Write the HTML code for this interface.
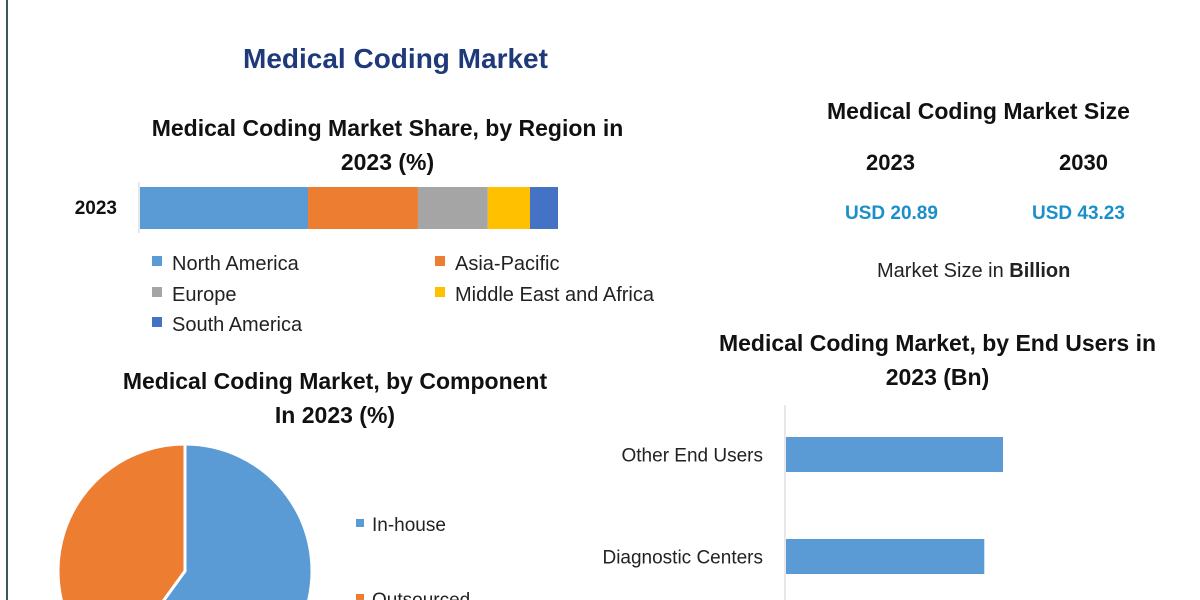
<!DOCTYPE html>
<html><head><meta charset="utf-8"><style>
html,body{margin:0;width:1200px;height:600px;overflow:hidden}
body{background:#fff;font-family:"Liberation Sans",sans-serif;position:relative}
.t{position:absolute;white-space:nowrap}
.b{font-weight:bold;color:#111}
</style></head><body>
<div style="position:absolute;left:6px;top:0;width:2px;height:600px;background:#3a5566"></div>
<div class="t" style="left:243px;top:43px;font-size:28px;font-weight:bold;color:#1f3a7a">Medical Coding Market</div>
<div class="t b" style="left:100px;top:111px;width:575px;text-align:center;font-size:23px;line-height:34px">Medical Coding Market Share, by Region in<br>2023 (%)</div>
<div class="t b" style="left:827px;top:98px;font-size:23px">Medical Coding Market Size</div>
<div class="t b" style="left:866px;top:150px;font-size:22px">2023</div>
<div class="t b" style="left:1059px;top:150px;font-size:22px">2030</div>
<div class="t" style="left:845px;top:203px;font-size:19px;font-weight:bold;color:#1a8fc9">USD 20.89</div>
<div class="t" style="left:1032px;top:203px;font-size:19px;font-weight:bold;color:#1a8fc9">USD 43.23</div>
<div class="t" style="left:877px;top:260px;font-size:20px;color:#222">Market Size in <b>Billion</b></div>
<div class="t b" style="left:100px;top:364px;width:470px;text-align:center;font-size:23px;line-height:34px">Medical Coding Market, by Component<br>In 2023 (%)</div>
<div class="t b" style="left:695px;top:326px;width:485px;text-align:center;font-size:23px;line-height:34px">Medical Coding Market, by End Users in<br>2023 (Bn)</div>
<svg id="s" width="1200" height="600" viewBox="0 0 1200 600" overflow="hidden" style="position:absolute;left:0;top:0;overflow:hidden" font-family="Liberation Sans, sans-serif"></svg>
<script>
const regions=["North America","Asia-Pacific","Europe","Middle East and Africa","South America"];
const regionShare=[40.2,26.3,16.7,10.1,6.7];
const regionColors=["#5b9bd5","#ed7d31","#a5a5a5","#ffc000","#4472c4"];
const components=["In-house","Outsourced"];
const componentShare=[60,40];
const endUsers=["Other End Users","Diagnostic Centers"];
const endUserValues=[5.8,5.3];
const NS="http://www.w3.org/2000/svg";
const s=document.getElementById('s');
function mk(t,a,txt){const e=document.createElementNS(NS,t);for(const k in a)e.setAttribute(k,a[k]);if(txt!==undefined)e.textContent=txt;s.appendChild(e);return e;}
const bx0=140,bw=418,total=regionShare.reduce((a,b)=>a+b,0);
let e=mk('line',{x1:139,y1:182,x2:139,y2:233,stroke:'#d0d0d0'});


e=mk('text',{x:117,y:214,'text-anchor':'end','font-size':19,'font-weight':'bold',fill:'#111'},'2023');


let acc=0;
regionShare.forEach((v,i)=>{const x=bx0+acc/total*bw,w=v/total*bw;acc+=v;
const r=mk('rect',{x:x,y:187,width:w,height:42,fill:regionColors[i]});

});
const legPos=[[152,262],[435,262],[152,293],[435,293],[152,323]];
regions.forEach((n,i)=>{const [x,y]=legPos[i];
const r=mk('rect',{x:x,y:y-6,width:10,height:10,fill:regionColors[i]});


const t=mk('text',{x:x+20,y:y+8,'font-size':20,fill:'#222'},n);

});
const cx=185,cy=571,R=127;let a0=0;
const pcol=["#5b9bd5","#ed7d31"];
componentShare.forEach((v,i)=>{const a1=a0+v/100*2*Math.PI;
const p=(a)=>[cx+R*Math.sin(a),cy-R*Math.cos(a)];
const [x0,y0]=p(a0),[x1,y1]=p(a1);
const d=`M${cx},${cy}L${x0},${y0}A${R},${R} 0 ${a1-a0>Math.PI?1:0} 1 ${x1},${y1}Z`;
const el=mk('path',{d:d,fill:pcol[i],stroke:'#fff','stroke-width':3});


a0=a1;});
components.forEach((n,i)=>{const y=524+i*75;
const r=mk('rect',{x:356,y:y-5,width:8,height:8,fill:pcol[i]});


const t=mk('text',{x:372,y:y+7,'font-size':19,fill:'#222'},n);

});
const ax=785,scale=217/5.8,rowY=[437,539],bh=35;
e=mk('line',{x1:ax,y1:405,x2:ax,y2:600,stroke:'#d0d0d0'});


endUsers.forEach((n,i)=>{const r=mk('rect',{x:ax+1,y:rowY[i],width:endUserValues[i]*scale,height:bh,fill:'#5b9bd5'});


const t=mk('text',{x:763,y:rowY[i]+bh/2+7,'text-anchor':'end','font-size':19,fill:'#222'},n);

});
</script>
</body></html>
